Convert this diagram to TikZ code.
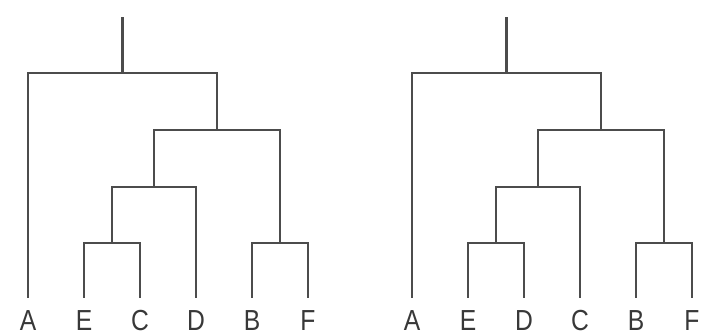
\documentclass[tikz,border=0pt]{standalone}
\usepackage{fontspec}
\setmainfont{Liberation Sans}
\begin{document}
\begin{tikzpicture}[x=1pt,y=-1pt,
  branch/.style={draw=black!70,line width=2.8pt,line join=miter},
  leaflabel/.style={anchor=base,inner sep=0pt,text=black!78,xscale=0.85,transform shape,font=\fontsize{29}{29}\selectfont}]
\useasboundingbox (0,0) rectangle (707,336);
% ---------- left tree ----------
\begin{scope}
  \coordinate (lA) at (28,298);
  \coordinate (lE) at (84,298);
  \coordinate (lC) at (140,298);
  \coordinate (lD) at (196,298);
  \coordinate (lB) at (252,298);
  \coordinate (lF) at (308,298);
  \coordinate (lEC) at (112,243);
  \coordinate (lBF) at (280,243);
  \coordinate (lECD) at (154,187);
  \coordinate (lECDBF) at (217,130);
  \coordinate (lroot) at (122.5,73);
  \coordinate (ltop) at (122.5,17);
  \draw[branch] (lE) |- (lEC) -| (lC);
  \draw[branch] (lB) |- (lBF) -| (lF);
  \draw[branch] (lEC) |- (lECD) -| (lD);
  \draw[branch] (lECD) |- (lECDBF) -| (lBF);
  \draw[branch] (lA) |- (lroot) -| (lECDBF);
  \draw[branch] (lroot) -- (ltop);
  \node[leaflabel] (tA1) at (28,331) {A};
  \node[leaflabel] (tE1) at (84,331) {E};
  \node[leaflabel] (tC1) at (140,331) {C};
  \node[leaflabel] (tD1) at (196,331) {D};
  \node[leaflabel] (tB1) at (252,331) {B};
  \node[leaflabel] (tF1) at (308,331) {F};
\end{scope}
% ---------- right tree ----------
\begin{scope}[xshift=384pt]
  \coordinate (rA) at (28,298);
  \coordinate (rE) at (84,298);
  \coordinate (rD) at (140,298);
  \coordinate (rC) at (196,298);
  \coordinate (rB) at (252,298);
  \coordinate (rF) at (308,298);
  \coordinate (rED) at (112,243);
  \coordinate (rBF) at (280,243);
  \coordinate (rEDC) at (154,187);
  \coordinate (rEDCBF) at (217,130);
  \coordinate (rroot) at (122.5,73);
  \coordinate (rtop) at (122.5,17);
  \draw[branch] (rE) |- (rED) -| (rD);
  \draw[branch] (rB) |- (rBF) -| (rF);
  \draw[branch] (rED) |- (rEDC) -| (rC);
  \draw[branch] (rEDC) |- (rEDCBF) -| (rBF);
  \draw[branch] (rA) |- (rroot) -| (rEDCBF);
  \draw[branch] (rroot) -- (rtop);
  \node[leaflabel] (tA2) at (28,331) {A};
  \node[leaflabel] (tE2) at (84,331) {E};
  \node[leaflabel] (tD2) at (140,331) {D};
  \node[leaflabel] (tC2) at (196,331) {C};
  \node[leaflabel] (tB2) at (252,331) {B};
  \node[leaflabel] (tF2) at (308,331) {F};
\end{scope}
\end{tikzpicture}
\end{document}
